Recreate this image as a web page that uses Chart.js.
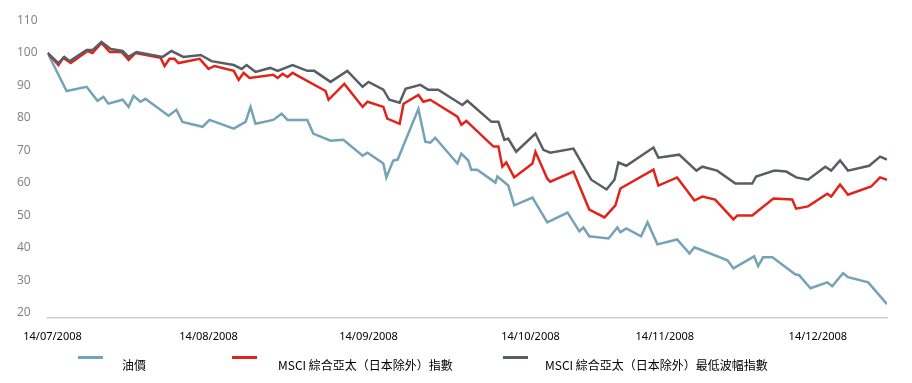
<!DOCTYPE html>
<html>
<head>
<meta charset="utf-8">
<script src="https://cdn.jsdelivr.net/npm/chart.js@4/dist/chart.umd.min.js"></script>
<style>
  html, body { margin: 0; padding: 0; background: #ffffff; }
  #wrap { width: 912px; height: 383px; }
</style>
</head>
<body>
<div id="wrap"><canvas id="c" width="912" height="383"></canvas></div>
<script>
// x = days since 14/07/2008 (approximate position)
const seriesNames = ['油價', 'MSCI 綜合亞太（日本除外）指數', 'MSCI 綜合亞太（日本除外）最低波幅指數'];

const oilDays = [0, 3.85, 7.9, 10.1, 11.3, 12.3, 15.2, 16.4, 17.4, 18.8, 19.8, 24.5, 26.1, 27.3, 31.4, 32.8,
  37.7, 40.1, 41.1, 42.1, 45.7, 47.4, 48.6, 52.6, 53.8, 57.3, 59.9, 63.8, 64.8, 68.0, 68.6, 70.0, 70.9,
  75.1, 76.5, 77.5, 78.5, 83.0, 83.8, 85.2, 85.8, 87.0, 90.7, 91.1, 93.3, 94.5, 98.2, 101.2, 105.3, 107.7,
  108.5, 109.7, 113.6, 115.4, 116.0, 117.2, 120.2, 121.5, 123.5, 127.5, 130.0, 131.0, 137.7, 138.9, 143.1,
  143.9, 144.9, 146.8, 151.4, 152.2, 154.5, 157.9, 158.9, 161.1, 162.1, 166.2, 170.0];
const oilValues = [100, 88.3, 89.6, 85.3, 86.5, 84.4, 85.6, 83.4, 86.8, 85.0, 85.9, 80.7, 82.5, 78.8, 77.3, 79.4,
  76.7, 78.8, 83.4, 78.2, 79.4, 81.3, 79.4, 79.4, 75.2, 73.0, 73.3, 68.4, 69.3, 66.0, 61.7, 66.9, 67.2,
  82.8, 72.7, 72.4, 73.9, 66.0, 69.0, 66.9, 64.1, 64.1, 60.1, 62.0, 59.2, 53.1, 55.5, 47.9, 50.9, 45.1,
  46.3, 43.6, 42.9, 46.3, 44.8, 46.0, 43.6, 47.9, 41.1, 42.6, 38.3, 40.2, 36.2, 33.7, 37.4,
  34.4, 37.1, 37.1, 31.9, 31.6, 27.6, 29.4, 28.2, 32.2, 31.0, 29.4, 22.7];

const acwiDays = [0, 2.2, 3.2, 4.7, 8.1, 9.1, 10.9, 12.6, 15.0, 16.4, 17.8, 22.9, 23.7, 24.7, 25.7, 26.5, 30.8,
  32.6, 33.8, 37.7, 38.7, 39.7, 40.9, 45.7, 46.6, 47.6, 48.6, 49.6, 56.3, 56.9, 60.1, 63.8, 64.8, 68.0, 68.8,
  71.3, 72.1, 75.1, 76.1, 77.5, 83.0, 83.8, 84.8, 90.3, 91.3, 92.1, 92.9, 94.5, 98.2, 98.8, 101.2, 101.8,
  106.5, 109.7, 112.8, 115.0, 116.0, 122.7, 123.7, 127.5, 131.0, 132.6, 135.2, 138.9, 139.7, 142.7, 147.0,
  150.8, 151.6, 154.0, 157.9, 158.7, 160.5, 162.1, 166.8, 168.6, 170.0];
const acwiValues = [100, 96.3, 98.5, 96.9, 100.6, 100.0, 103.1, 100.3, 100.3, 97.9, 100.0, 98.5, 96.0, 98.2, 98.2, 96.9, 98.2,
  95.1, 96.0, 94.5, 91.7, 93.9, 92.3, 93.3, 92.3, 93.6, 92.6, 93.9, 88.3, 85.6, 90.5, 83.4, 85.0, 83.4, 79.8,
  78.2, 84.4, 87.1, 85.0, 85.6, 80.4, 77.9, 79.1, 71.2, 71.2, 65.0, 66.3, 61.7, 66.0, 69.6, 61.3, 60.4,
  63.5, 51.8, 49.4, 53.1, 58.3, 64.1, 59.2, 61.7, 54.6, 55.8, 54.9, 48.8, 50.0, 50.0, 55.2,
  54.9, 52.1, 52.8, 56.7, 55.8, 59.5, 56.4, 58.9, 61.7, 61.0];

const minVolDays = [0, 2.2, 3.4, 4.5, 7.9, 9.1, 10.9, 12.8, 15.2, 16.4, 18.0, 23.3, 25.1, 27.5, 31.0, 33.2,
  37.7, 39.3, 40.3, 42.1, 45.1, 46.6, 49.6, 52.6, 54.0, 57.3, 60.7, 63.8, 65.0, 68.0, 69.2, 71.3, 72.5,
  75.5, 77.1, 79.1, 84.0, 85.0, 89.9, 91.3, 92.5, 93.3, 94.9, 98.8, 100.4, 101.8, 106.5, 110.1, 113.2,
  114.8, 115.6, 117.2, 122.7, 123.7, 127.9, 131.4, 132.6, 135.6, 139.3, 142.7, 143.5, 147.2, 149.6,
  151.6, 154.0, 157.5, 158.7, 160.5, 162.1, 166.4, 168.6, 170.0];
const minVolValues = [100, 96.9, 98.8, 97.5, 100.9, 100.9, 103.4, 101.2, 100.6, 98.8, 100.3, 98.8, 100.6, 98.8, 99.4, 97.5,
  96.3, 95.1, 96.3, 94.2, 95.4, 94.5, 96.3, 94.5, 94.5, 91.1, 94.5, 89.6, 91.1, 88.7, 85.6, 84.7, 89.0,
  90.2, 88.7, 88.7, 84.0, 85.3, 78.8, 78.8, 73.3, 73.6, 69.6, 75.2, 70.2, 69.3, 70.6, 61.0, 58.0,
  61.0, 66.3, 65.3, 70.9, 67.8, 68.7, 63.8, 65.0, 63.8, 59.8, 59.8, 62.0, 63.8, 63.5,
  61.7, 61.0, 65.0, 63.8, 66.9, 63.8, 65.3, 68.1, 67.2];

const xTickDays = [1, 32.6, 65, 97.8, 125, 156];
const xTickLabels = ['14/07/2008', '14/08/2008', '14/09/2008', '14/10/2008', '14/11/2008', '14/12/2008'];
const yTickValues = [20, 30, 40, 50, 60, 70, 80, 90, 100, 110];

const colors = ['#74a3b7', '#e2231a', '#585e65'];

function pts(days, vals) { return days.map((d, i) => ({ x: d, y: vals[i] })); }

const legendPlugin = {
  id: 'customLegend',
  afterDraw(chart) {
    const ctx = chart.ctx;
    const items = [
      { sx: 78, tx: 122 },
      { sx: 232, tx: 278 },
      { sx: 503, tx: 545 }
    ];
    ctx.save();
    chart.data.datasets.forEach((ds, i) => {
      const it = items[i];
      ctx.strokeStyle = ds.borderColor;
      ctx.lineWidth = 3;
      ctx.beginPath();
      ctx.moveTo(it.sx, 357.5);
      ctx.lineTo(it.sx + 25, 357.5);
      ctx.stroke();
      ctx.fillStyle = '#000000';
      ctx.font = '12px "Noto Sans CJK TC", "Noto Sans", sans-serif';
      ctx.textBaseline = 'middle';
      ctx.textAlign = 'left';
      ctx.fillText(ds.label, it.tx, 365);
    });
    ctx.restore();
  }
};

new Chart(document.getElementById('c'), {
  type: 'line',
  data: {
    datasets: [
      { label: seriesNames[0], data: pts(oilDays, oilValues), borderColor: colors[0], order: 3 },
      { label: seriesNames[1], data: pts(acwiDays, acwiValues), borderColor: colors[1], order: 2 },
      { label: seriesNames[2], data: pts(minVolDays, minVolValues), borderColor: colors[2], order: 1 }
    ]
  },
  options: {
    responsive: false,
    animation: false,
    devicePixelRatio: 1,
    layout: { padding: { left: 17, right: 25, top: 20.5, bottom: 28 } },
    elements: {
      line: { borderWidth: 2.5, tension: 0, fill: false, borderJoinStyle: 'miter' },
      point: { radius: 0, hoverRadius: 0 }
    },
    plugins: {
      legend: { display: false },
      tooltip: { enabled: false }
    },
    scales: {
      x: {
        type: 'linear',
        min: 0,
        max: 170,
        afterBuildTicks: (axis) => { axis.ticks = xTickDays.map(v => ({ value: v })); },
        ticks: {
          autoSkip: false,
          maxRotation: 0,
          padding: 12,
          color: '#000000',
          font: { family: '"Noto Sans", sans-serif', size: 11 },
          callback: (value) => {
            const i = xTickDays.indexOf(value);
            return i >= 0 ? xTickLabels[i] : '';
          }
        },
        grid: { display: false, drawTicks: false },
        border: { display: true, color: '#cfcfcf', width: 1.5 }
      },
      y: {
        type: 'linear',
        min: 18.5,
        max: 110,
        afterBuildTicks: (axis) => { axis.ticks = yTickValues.map(v => ({ value: v })); },
        ticks: {
          padding: 5,
          crossAlign: 'far',
          color: '#7f7f7f',
          font: { family: '"Open Sans", sans-serif', size: 12 }
        },
        grid: { display: false, drawTicks: false },
        border: { display: false }
      }
    }
  },
  plugins: [legendPlugin]
});
</script>
</body>
</html>
